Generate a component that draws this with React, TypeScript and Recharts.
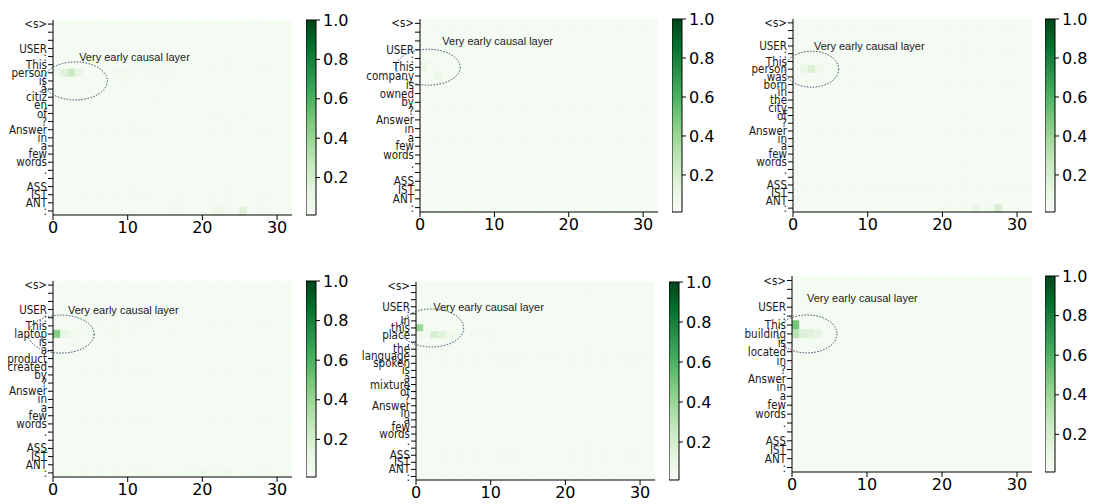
import React from "react";
import { BarChart, Bar, XAxis, YAxis, Cell, ReferenceDot } from "recharts";

// layers on x, prompt tokens on y
const LAYERS = 32;
const LAYER_TICKS = [0, 10, 20, 30];
const CB_TICKS = [0.2, 0.4, 0.6, 0.8, 1.0];
const VMIN = 0.01;
const BASE = 0.03;
const NOTE = "Very early causal layer";

const tokens1 = ["<s>", "", "", "USER", ":", "This", "person", "is", "a", "citiz", "en", "of", "?", "Answer", "in", "a", "few", "words", ".", "", "ASS", "IST", "ANT", ":"];
const tokens2 = ["<s>", "", "", "USER", ":", "This", "company", "is", "owned", "by", "?", "Answer", "in", "a", "few", "words", ".", "", "ASS", "IST", "ANT", ":"];
const tokens3 = ["<s>", "", "", "USER", ":", "This", "person", "was", "born", "in", "the", "city", "of", "?", "Answer", "in", "a", "few", "words", ".", "", "ASS", "IST", "ANT", ":"];
const tokens4 = ["<s>", "", "", "USER", ":", "This", "laptop", "is", "a", "product", "created", "by", "?", "Answer", "in", "a", "few", "words", ".", "", "ASS", "IST", "ANT", ":"];
const tokens5 = ["<s>", "", "", "USER", ":", "In", "this", "place", ",", "the", "language", "spoken", "is", "a", "mixture", "of", "?", "Answer", "in", "a", "few", "words", ".", "", "ASS", "IST", "ANT", ":"];
const tokens6 = ["<s>", "", "", "USER", ":", "This", "building", "is", "located", "in", "?", "Answer", "in", "a", "few", "words", ".", "", "ASS", "IST", "ANT", ":"];

// [row, layer, value] for cells above the background level
const hot1 = [
  [6, 0, 0.05], [6, 1, 0.15], [6, 2, 0.25], [6, 3, 0.1], [6, 8, 0.05], [6, 9, 0.05], [6, 10, 0.04],
  [6, 12, 0.04], [6, 13, 0.05], [6, 14, 0.04], [6, 15, 0.04], [7, 9, 0.04], [7, 14, 0.04],
  [9, 13, 0.04], [11, 21, 0.04], [11, 22, 0.04], [11, 25, 0.04], [22, 16, 0.04],
  [23, 16, 0.05], [23, 21, 0.07], [23, 22, 0.08], [23, 23, 0.06], [23, 25, 0.16], [23, 27, 0.05], [23, 28, 0.05],
];
const hot2 = [[5, 0, 0.1], [6, 2, 0.09], [6, 3, 0.04]];
const hot3 = [
  [5, 0, 0.05], [6, 1, 0.09], [6, 2, 0.18], [6, 3, 0.07], [6, 8, 0.04],
  [24, 20, 0.04], [24, 21, 0.04], [24, 22, 0.04], [24, 24, 0.08], [24, 26, 0.05], [24, 27, 0.2],
];
const hot4 = [
  [6, 0, 0.45], [6, 1, 0.1], [6, 2, 0.06], [6, 3, 0.05], [6, 7, 0.05], [6, 8, 0.05], [6, 10, 0.04], [6, 15, 0.04],
  [9, 8, 0.04], [23, 18, 0.04], [23, 19, 0.05], [23, 20, 0.05], [23, 22, 0.05], [23, 23, 0.05],
];
const hot5 = [
  [6, 0, 0.4], [7, 0, 0.06], [7, 1, 0.05], [7, 2, 0.2], [7, 3, 0.15], [7, 4, 0.08], [7, 5, 0.05],
  [7, 8, 0.04], [7, 9, 0.04], [7, 10, 0.04],
];
const hot6 = [[5, 0, 0.5], [6, 0, 0.3], [6, 1, 0.17], [6, 2, 0.15], [6, 3, 0.12]];

const GREENS = ["#f7fcf5", "#e5f5e0", "#c7e9c0", "#a1d99b", "#74c476", "#41ab5d", "#238b45", "#006d2c", "#00441b"];

function hex(c: string) {
  return [1, 3, 5].map((i) => parseInt(c.slice(i, i + 2), 16));
}

function greens(v: number) {
  const t = Math.max(0, Math.min(1, (v - VMIN) / (1 - VMIN))) * 8;
  const i = Math.min(7, Math.floor(t));
  const a = hex(GREENS[i]), b = hex(GREENS[i + 1]);
  const f = t - i;
  const m = a.map((x, k) => Math.round(x + (b[k] - x) * f));
  return `rgb(${m[0]},${m[1]},${m[2]})`;
}

const YW = 60;
const XH = 32;
const PAD = 2;

const panels = [
  { tokens: tokens1, hot: hot1, box: { x: 53, y: 20, w: 239, h: 195 }, cb: { x: 306, y: 20, w: 10, h: 195 }, ell: [3, 7, 32, 19], txt: [3.5, 4] },
  { tokens: tokens2, hot: hot2, box: { x: 420, y: 19, w: 238, h: 193 }, cb: { x: 672, y: 19, w: 10, h: 193 }, ell: [1.1, 5, 32, 18], txt: [3, 2] },
  { tokens: tokens3, hot: hot3, box: { x: 793, y: 19, w: 239, h: 193 }, cb: { x: 1045, y: 19, w: 10, h: 193 }, ell: [2.5, 6, 27, 18], txt: [2.8, 3] },
  { tokens: tokens4, hot: hot4, box: { x: 53, y: 281, w: 239, h: 196 }, cb: { x: 306, y: 281, w: 10, h: 196 }, ell: [1.1, 6, 33, 19], txt: [2, 3] },
  { tokens: tokens5, hot: hot5, box: { x: 416, y: 282, w: 239, h: 198 }, cb: { x: 669, y: 282, w: 10, h: 198 }, ell: [2.1, 6, 32, 19], txt: [2.3, 3] },
  { tokens: tokens6, hot: hot6, box: { x: 792, y: 276, w: 240, h: 196 }, cb: { x: 1045, y: 276, w: 10, h: 196 }, ell: [2, 6, 30, 19], txt: [2, 2] },
];

const cols = Array.from({ length: LAYERS }, (_, c) => c);

function Heatmap({ p }: { p: (typeof panels)[number] }) {
  const rows = p.tokens.map((_, i) => {
    const r: Record<string, number> = { id: i };
    cols.forEach((c) => (r["c" + c] = 1));
    return r;
  });
  const value = (r: number, c: number) => {
    const h = p.hot.find((x) => x[0] === r && x[1] === c);
    return h ? h[2] : BASE;
  };
  const [ex, ey, rx, ry] = p.ell;
  const [tx, ty] = p.txt;
  return (
    <div style={{ position: "absolute", left: p.box.x - YW, top: p.box.y - PAD }}>
      <BarChart
        layout="vertical"
        width={YW + p.box.w + PAD}
        height={p.box.h + XH + PAD}
        data={rows}
        margin={{ top: PAD, right: PAD, bottom: 0, left: 0 }}
        barCategoryGap={0}
        barGap={0}
      >
        <XAxis
          type="number"
          domain={[0, LAYERS]}
          ticks={LAYER_TICKS}
          height={XH}
          allowDataOverflow
          stroke="#000"
          tickSize={5}
          tickMargin={2}
          tick={{ fill: "#000", fontSize: 16, fontFamily: "DejaVu Sans" }}
        />
        <XAxis xAxisId="top" orientation="top" type="number" domain={[0, LAYERS]} height={0} tick={false} tickLine={false} stroke="#000" />
        <YAxis
          type="category"
          dataKey="id"
          width={YW}
          interval={0}
          stroke="#000"
          tickSize={5}
          tickMargin={1}
          tickFormatter={(i: number) => p.tokens[i]}
          tick={{ fill: "#1a1a1a", fontSize: 11.5, fontFamily: "Liberation Sans Narrow, DejaVu Sans Condensed, sans-serif" }}
        />
        <YAxis yAxisId="right" orientation="right" type="number" domain={[0, 1]} width={0} tick={false} tickLine={false} stroke="#000" />
        {cols.map((c) => (
          <Bar key={c} dataKey={"c" + c} stackId="s" isAnimationActive={false}>
            {rows.map((r) => {
              const col = greens(value(r.id, c));
              return <Cell key={r.id} fill={col} stroke={col} strokeWidth={0.5} />;
            })}
          </Bar>
        ))}
        <ReferenceDot
          x={ex}
          y={ey}
          shape={(s: any) => (
            <ellipse cx={s.cx} cy={s.cy} rx={rx} ry={ry} fill="none" stroke="#2c4a66" strokeWidth={1} strokeDasharray="1.5 1.5" />
          )}
        />
        <ReferenceDot
          x={tx}
          y={ty}
          shape={(s: any) => (
            <text x={s.cx} y={s.cy} dy={4} fill="#222" fontSize={11} fontFamily="Liberation Sans Narrow, sans-serif">
              {NOTE}
            </text>
          )}
        />
      </BarChart>
    </div>
  );
}

function Colorbar({ p, id }: { p: (typeof panels)[number]; id: string }) {
  const data = [{ k: "cb", range: [VMIN, 1] }];
  return (
    <div style={{ position: "absolute", left: p.cb.x, top: p.cb.y - 10 }}>
      <BarChart width={p.cb.w + 45} height={p.cb.h + 20} data={data} margin={{ top: 10, bottom: 10, left: 0, right: 0 }} barCategoryGap={0}>
        <defs>
          <linearGradient id={id} x1="0" y1="1" x2="0" y2="0">
            {GREENS.map((c, i) => (
              <stop key={i} offset={i / 8} stopColor={c} />
            ))}
          </linearGradient>
        </defs>
        <XAxis dataKey="k" hide />
        <YAxis
          orientation="right"
          type="number"
          domain={[VMIN, 1]}
          ticks={CB_TICKS}
          width={45}
          axisLine={false}
          stroke="#000"
          tickSize={4}
          tickMargin={3}
          tickFormatter={(v: number) => v.toFixed(1)}
          tick={{ fill: "#000", fontSize: 16, fontFamily: "DejaVu Sans" }}
        />
        <Bar dataKey="range" fill={`url(#${id})`} stroke="#000" strokeWidth={1} isAnimationActive={false} />
      </BarChart>
    </div>
  );
}

export default function App() {
  return (
    <div style={{ position: "absolute", left: 0, top: 0, width: 1093, height: 504, background: "#fff" }}>
      {panels.map((p, i) => (
        <React.Fragment key={i}>
          <Heatmap p={p} />
          <Colorbar p={p} id={"greens" + i} />
        </React.Fragment>
      ))}
    </div>
  );
}
